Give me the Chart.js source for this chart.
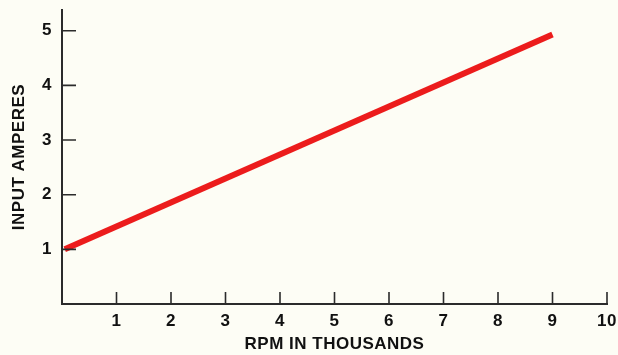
<!DOCTYPE html>
<html>
<head>
<meta charset="utf-8">
<script src="https://cdn.jsdelivr.net/npm/chart.js@4"></script>
<style>
  html, body { margin: 0; padding: 0; background: #fdfdf5; }
  #wrap { width: 618px; height: 355px; }
</style>
</head>
<body>
<div id="wrap"><canvas id="rpmChart"></canvas></div>
<script>
// values
const rpmThousands = [0.05, 9];
const inputAmperes = [1.0, 4.93];
const xTicks = [1, 2, 3, 4, 5, 6, 7, 8, 9, 10];
const yTicks = [1, 2, 3, 4, 5];

const ink = '#2b2b2b';

// tick marks point into the plot, like on the printed graph
const innerTicks = {
  id: 'innerTicks',
  beforeDraw(chart) {
    chart.ctx.letterSpacing = '0.5px';
  },
  afterDraw(chart) {
    const ctx = chart.ctx;
    const xs = chart.scales.x, ys = chart.scales.y;
    ctx.save();
    ctx.strokeStyle = ink;
    ctx.lineWidth = 1.6;
    ctx.beginPath();
    xTicks.forEach(v => {
      const px = xs.getPixelForValue(v);
      ctx.moveTo(px, ys.bottom);
      ctx.lineTo(px, ys.bottom - 12);
    });
    yTicks.forEach(v => {
      const py = ys.getPixelForValue(v);
      ctx.moveTo(xs.left, py);
      ctx.lineTo(xs.left + 14, py);
    });
    ctx.stroke();
    ctx.restore();
  }
};

const ctx = document.getElementById('rpmChart').getContext('2d');
const rpmChart = new Chart(ctx, {
  type: 'line',
  data: {
    datasets: [{
      data: rpmThousands.map((x, i) => ({ x: x, y: inputAmperes[i] })),
      borderColor: '#ec1c1c',
      borderWidth: 6,
      pointRadius: 0,
      borderCapStyle: 'butt'
    }]
  },
  options: {
    responsive: true,
    maintainAspectRatio: false,
    animation: false,
    layout: { padding: { top: 10, right: 11, left: 0, bottom: 0 } },
    plugins: { legend: { display: false }, tooltip: { enabled: false } },
    scales: {
      x: {
        type: 'linear',
        min: 0,
        max: 10,
        afterBuildTicks: s => { s.ticks = [0].concat(xTicks).map(v => ({ value: v })); },
        afterFit: s => { s.height = 51; s.paddingLeft = 0; s.paddingRight = 0; },
        grid: { drawOnChartArea: false, drawTicks: false },
        border: { color: ink, width: 2 },
        ticks: {
          color: '#111',
          padding: 7,
          maxRotation: 0,
          font: { family: 'Liberation Sans', weight: 'bold', size: 17 },
          callback: v => (v === 0 ? '' : v)
        },
        title: {
          display: true,
          text: 'RPM IN THOUSANDS',
          color: '#111',
          padding: { top: 1, bottom: 0 },
          font: { family: 'Liberation Sans', weight: 'bold', size: 17 }
        }
      },
      y: {
        type: 'linear',
        min: 0,
        max: 5.38,
        afterBuildTicks: s => { s.ticks = [0].concat(yTicks).map(v => ({ value: v })); },
        afterFit: s => { s.width = 62; s.paddingTop = 0; s.paddingBottom = 0; },
        grid: { drawOnChartArea: false, drawTicks: false },
        border: { color: ink, width: 2 },
        ticks: {
          color: '#111',
          padding: 10,
          font: { family: 'Liberation Sans', weight: 'bold', size: 17 },
          callback: v => (v === 0 ? '' : v)
        },
        title: {
          display: true,
          text: 'INPUT AMPERES',
          color: '#111',
          padding: { top: 9, bottom: 0 },
          font: { family: 'Liberation Sans', weight: 'bold', size: 17 }
        }
      }
    }
  },
  plugins: [innerTicks]
});
</script>
</body>
</html>
